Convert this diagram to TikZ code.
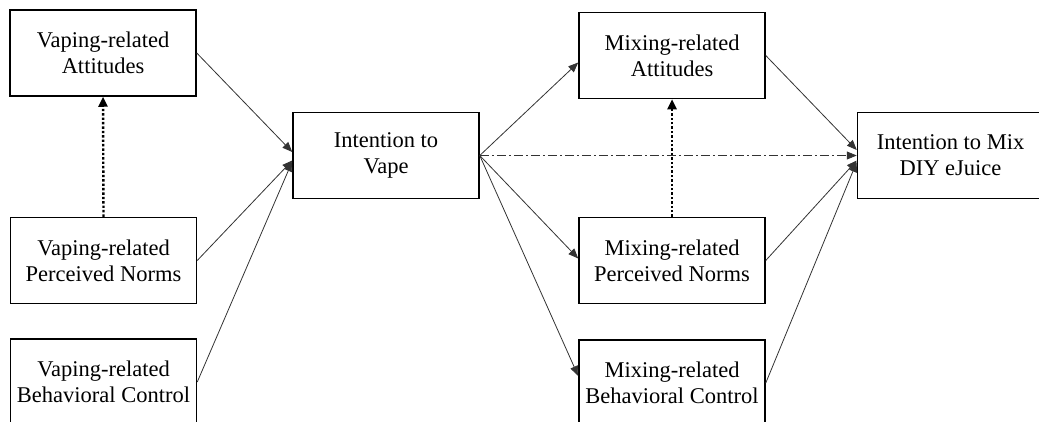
\documentclass[tikz,border=0pt]{standalone}
\usepackage{fontspec}
\setmainfont{Liberation Serif}
\usetikzlibrary{arrows.meta}
\begin{document}
\begin{tikzpicture}[x=1pt,y=-1pt,
constructnode/.style={rectangle, draw, line width=1.5pt, minimum width=186pt, minimum height=86pt, inner sep=0pt, align=center, font=\fontsize{22.5}{26}\selectfont},
to/.style={-{Triangle[length=10pt,width=8pt]}, line width=0.8pt, draw=black!80},
dashto/.style={to, dash pattern=on 9pt off 3pt on 2pt off 3pt},
dotto/.style={-{Triangle[length=10pt,width=9pt]}, line width=2.4pt, dash pattern=on 2.4pt off 2pt},
]
\clip (0,0) rectangle (1039,421);
%nodes
\node[constructnode](va) at (103,53) {Vaping-related\\Attitudes};
\node[constructnode](vpn) at (103.5,260.5) {Vaping-related\\Perceived Norms};
\node[constructnode](vbc) at (103.5,382) {Vaping-related\\Behavioral Control};
\node[constructnode](iv) at (386,155.5) {Intention to\\Vape};
\node[constructnode](ma) at (672,55.5) {Mixing-related\\Attitudes};
\node[constructnode](mpn) at (672,260.5) {Mixing-related\\Perceived Norms};
\node[constructnode](mbc) at (672,383) {Mixing-related\\Behavioral Control};
\node[constructnode](im) at (950.5,155.5) {Intention to Mix\\DIY eJuice};
%connections
\draw[dotto] (vpn.north) -- (va.south);
\draw[dotto] (mpn.north) -- (ma.south);
\draw[to] (va.east) -- ([yshift=3.5pt]iv.west);
\draw[to] (vpn.east) -- ([yshift=-5pt]iv.west);
\draw[to] (vbc.east) -- ([yshift=-6pt]iv.west);
\draw[to] (iv.east) -- ([yshift=-7pt]ma.west);
\draw[to] (iv.east) -- ([yshift=2pt]mpn.west);
\draw[to] (iv.east) -- ([yshift=7pt]mbc.west);
\draw[dashto] (iv.east) -- (im.west);
\draw[to] (ma.east) -- ([yshift=5.5pt]im.west);
\draw[to] (mpn.east) -- ([yshift=-5pt]im.west);
\draw[to] (mbc.east) -- ([yshift=-6.5pt]im.west);
\end{tikzpicture}
\end{document}
